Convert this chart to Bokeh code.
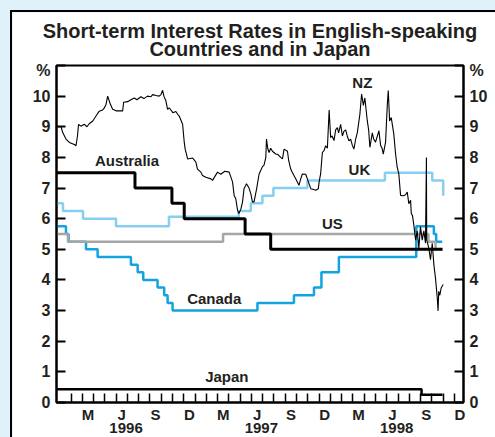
from bokeh.plotting import figure
from bokeh.models import LinearAxis, FixedTicker, Range1d, Label, Title, CustomJSTickFormatter
from bokeh.embed import file_html
from bokeh.resources import INLINE

FONT = "Liberation Sans"
INK = "#231f20"

# ---------------- data (x in decimal years, y in per cent) ----------------
aus_x = [1995.976, 1996.556, 1996.829, 1996.920, 1997.370, 1997.559, 1998.829]
aus_y = [7.5, 7.0, 6.5, 6.0, 5.5, 5.0, 5.0]

uk_x = [1995.976, 1996.024, 1996.172, 1996.416, 1996.807, 1997.323, 1997.412,
        1997.498, 1997.579, 1997.830, 1998.403, 1998.753, 1998.834]
uk_y = [6.5, 6.25, 6.0, 5.75, 6.06, 6.25, 6.5, 6.75, 7.0, 7.25, 7.5, 7.25, 6.75]

us_x = [1995.976, 1996.061, 1997.207, 1998.725, 1998.777, 1998.827]
us_y = [5.5, 5.25, 5.5, 5.25, 5.0, 5.0]

can_x = [1995.976, 1996.046, 1996.065, 1996.194, 1996.280, 1996.526, 1996.576,
         1996.617, 1996.723, 1996.772, 1996.797, 1996.834, 1997.461, 1997.731,
         1997.879, 1997.934, 1998.063, 1998.635, 1998.765, 1998.782, 1998.827]
can_y = [5.75, 5.5, 5.25, 5.0, 4.75, 4.5, 4.25, 4.0, 3.75, 3.5, 3.25, 3.0, 3.25,
         3.5, 3.75, 4.25, 4.75, 5.75, 5.5, 5.25, 5.25]

jpn_x = [1995.976, 1998.674, 1998.829]
jpn_y = [0.43, 0.25, 0.25]

nz_x = [1995.979, 1996.010, 1996.022, 1996.046, 1996.071, 1996.108, 1996.120, 1996.131, 1996.139, 1996.157,
        1996.182, 1996.201, 1996.218, 1996.244, 1996.268, 1996.292, 1996.317, 1996.327, 1996.342, 1996.354,
        1996.373, 1996.391, 1996.416, 1996.438, 1996.465, 1996.472, 1996.502, 1996.526, 1996.551, 1996.570,
        1996.600, 1996.622, 1996.649, 1996.674, 1996.686, 1996.711, 1996.735, 1996.748, 1996.760, 1996.770,
        1996.784, 1996.797, 1996.809, 1996.836, 1996.858, 1996.873, 1996.883, 1996.908, 1996.920, 1996.927,
        1996.945, 1996.982, 1996.993, 1997.006, 1997.018, 1997.043, 1997.055, 1997.080, 1997.117, 1997.129,
        1997.166, 1997.190, 1997.220, 1997.252, 1997.277, 1997.289, 1997.301, 1997.314, 1997.323, 1997.338,
        1997.351, 1997.362, 1997.375, 1997.380, 1997.399, 1997.412, 1997.424, 1997.436, 1997.456, 1997.473,
        1997.498, 1997.510, 1997.523, 1997.528, 1997.537, 1997.547, 1997.559, 1997.572, 1997.596, 1997.611,
        1997.633, 1997.646, 1997.658, 1997.683, 1997.692, 1997.707, 1997.720, 1997.744, 1997.768, 1997.781,
        1997.793, 1997.818, 1997.830, 1997.855, 1997.877, 1997.892, 1997.911, 1997.917, 1997.928, 1997.941,
        1997.953, 1997.965, 1997.978, 1997.991, 1998.002, 1998.013, 1998.027, 1998.039, 1998.052, 1998.061,
        1998.076, 1998.089, 1998.100, 1998.113, 1998.125, 1998.137, 1998.150, 1998.162, 1998.174, 1998.187,
        1998.199, 1998.218, 1998.231, 1998.244, 1998.255, 1998.273, 1998.283, 1998.292, 1998.310, 1998.320,
        1998.334, 1998.359, 1998.371, 1998.382, 1998.391, 1998.408, 1998.421, 1998.428, 1998.438, 1998.450,
        1998.469, 1998.482, 1998.494, 1998.506, 1998.519, 1998.541, 1998.556, 1998.568, 1998.580, 1998.593,
        1998.598, 1998.607, 1998.617, 1998.630, 1998.642, 1998.654, 1998.666, 1998.679, 1998.691, 1998.703,
        1998.710, 1998.712, 1998.728, 1998.740, 1998.753, 1998.765, 1998.777, 1998.790, 1998.796, 1998.801,
        1998.809, 1998.819, 1998.834]
nz_y = [9.0, 9.0, 8.81, 8.6, 8.49, 8.42, 8.38, 8.7, 9.08, 9.02,
        9.08, 9.0, 9.1, 9.19, 9.35, 9.51, 9.55, 9.6, 9.73, 10.0,
        9.75, 9.57, 9.52, 9.52, 9.52, 9.8, 9.82, 9.88, 9.94, 9.88,
        9.98, 9.92, 10.0, 9.98, 10.05, 10.02, 10.0, 10.05, 10.19, 10.0,
        9.85, 9.57, 9.62, 9.46, 9.5, 9.4, 9.35, 9.08, 8.5, 8.27,
        7.95, 7.98, 7.92, 7.85, 7.62, 7.52, 7.41, 7.35, 7.30, 7.25,
        7.52, 7.45, 7.55, 7.52, 7.2, 6.76, 6.65, 6.28, 6.17, 6.3,
        6.55, 6.98, 7.09, 7.14, 7.0, 6.82, 6.55, 6.55, 7.0, 7.45,
        7.7, 7.75, 8.0, 8.6, 8.3, 8.16, 8.3, 8.2, 8.11, 8.1,
        8.0, 7.95, 8.27, 8.2, 7.9, 7.62, 7.5, 7.30, 7.09, 7.3,
        7.46, 7.45, 7.3, 6.98, 6.95, 6.93, 6.98, 7.2, 7.46, 8.16,
        8.22, 8.38, 8.3, 9.55, 8.65, 8.7, 8.55, 8.9, 8.97, 8.8,
        9.08, 8.7, 8.85, 8.9, 8.7, 8.54, 8.6, 8.4, 8.27, 8.6,
        8.8, 9.4, 10.07, 9.7, 9.94, 9.19, 8.9, 8.33, 8.8, 8.6,
        8.5, 8.87, 8.4, 8.3, 8.11, 8.5, 9.73, 10.18, 9.19, 9.3,
        8.76, 8.11, 7.68, 7.46, 6.76, 6.75, 6.78, 6.87, 6.49, 6.6,
        6.17, 6.1, 5.79, 5.3, 5.6, 5.04, 5.74, 5.3, 5.6, 5.2,
        8.0, 5.3, 5.04, 4.66, 5.2, 4.5, 4.06, 3.42, 2.99, 3.63,
        3.5, 3.74, 3.85]
assert len(nz_x) == len(nz_y)

y_ticks = list(range(0, 12))          # 11 carries the "%" unit label
month_bounds = [1996 + k / 12 for k in range(1, 36)]
label_months = [1996 + (k + 0.5) / 12 for k in range(36) if k % 12 in (2, 5, 8, 11)]
month_letters = ["J", "F", "M", "A", "M", "J", "J", "A", "S", "O", "N", "D"]
year_ticks = [1996.49, 1997.49, 1998.49]
title_text = "Short-term Interest Rates in English-speaking\nCountries and in Japan"

# ---------------- figure ----------------
p = figure(width=483, height=425,
           x_range=Range1d(1995.976, 1998.984), y_range=Range1d(0, 11),
           x_axis_location=None, y_axis_location=None,
           output_backend="svg", toolbar_location=None,
           min_border_left=44, min_border_right=32, min_border_top=51, min_border_bottom=35,
           background_fill_color="white", border_fill_color="white",
           outline_line_color="black", outline_line_width=2)
p.xgrid.visible = False
p.ygrid.visible = False
p.styles = {"margin-left": "12px", "margin-top": "12px", "outline": "2px solid black"}

title = Title(text=title_text, align="center", text_align="center",
              text_font=FONT, text_font_style="bold", text_font_size="20px",
              text_color=INK, text_line_height=0.84, standoff=11)
p.add_layout(title, "above")


def style_axis(ax, size="15px"):
    ax.axis_line_color = "black"
    ax.axis_line_width = 2
    ax.major_label_text_font = FONT
    ax.major_label_text_font_style = "bold"
    ax.major_label_text_font_size = size
    ax.major_label_text_color = INK


pct_formatter = CustomJSTickFormatter(code="return tick >= 11 ? ' \\n%' : String(tick);")
for side in ("left", "right"):
    ax = LinearAxis(ticker=FixedTicker(ticks=y_ticks, minor_ticks=[]),
                    major_tick_in=9, major_tick_out=0, major_tick_line_width=2,
                    minor_tick_line_color=None, major_label_standoff=6,
                    formatter=pct_formatter)
    style_axis(ax, "16px")
    ax.major_label_text_line_height = 0.55
    p.add_layout(ax, side)

xb = LinearAxis(ticker=FixedTicker(ticks=label_months, minor_ticks=month_bounds),
                major_tick_line_color=None, major_tick_in=0, major_tick_out=0,
                minor_tick_in=9, minor_tick_out=0, minor_tick_line_width=1.5,
                minor_tick_line_color="black", major_label_standoff=3,
                formatter=CustomJSTickFormatter(args=dict(letters=month_letters), code="""
                    const m = Math.floor((tick - 1996) * 12 + 1e-6) % 12;
                    return letters[m];
                """))
style_axis(xb)
p.add_layout(xb, "below")

xy = LinearAxis(ticker=FixedTicker(ticks=year_ticks, minor_ticks=[]),
                major_tick_line_color=None,
                major_tick_in=0, major_tick_out=0, minor_tick_line_color=None,
                major_label_standoff=-3,
                formatter=CustomJSTickFormatter(code="return String(Math.floor(tick));"))
style_axis(xy)
xy.axis_line_color = None
p.add_layout(xy, "below")

# ---------------- series ----------------
p.step(jpn_x, jpn_y, mode="after", line_color="black", line_width=2.5)
p.step(can_x, can_y, mode="after", line_color="#12a3e0", line_width=2.5)
p.step(us_x, us_y, mode="after", line_color="#a6a6a6", line_width=2.5)
p.step(uk_x, uk_y, mode="after", line_color="#86cff0", line_width=2.5)
p.step(aus_x, aus_y, mode="after", line_color="black", line_width=3)
p.line(nz_x, nz_y, line_color="black", line_width=1.1)

# ---------------- series names ----------------
for name, x, y in [("Australia", 1996.497, 7.906), ("UK", 1998.215, 7.599),
                   ("US", 1998.015, 5.845), ("Canada", 1997.142, 3.382),
                   ("Japan", 1997.235, 0.851), ("NZ", 1998.236, 10.43)]:
    p.add_layout(Label(x=x, y=y, text=name, text_font=FONT, text_font_style="bold",
                       text_font_size="15px", text_color=INK,
                       text_align="center", text_baseline="middle"))

html = file_html(p, INLINE)
html = html.replace("</head>", "<style>body{background:#dff1f9;}</style></head>", 1)
open("out.html", "w").write(html)
